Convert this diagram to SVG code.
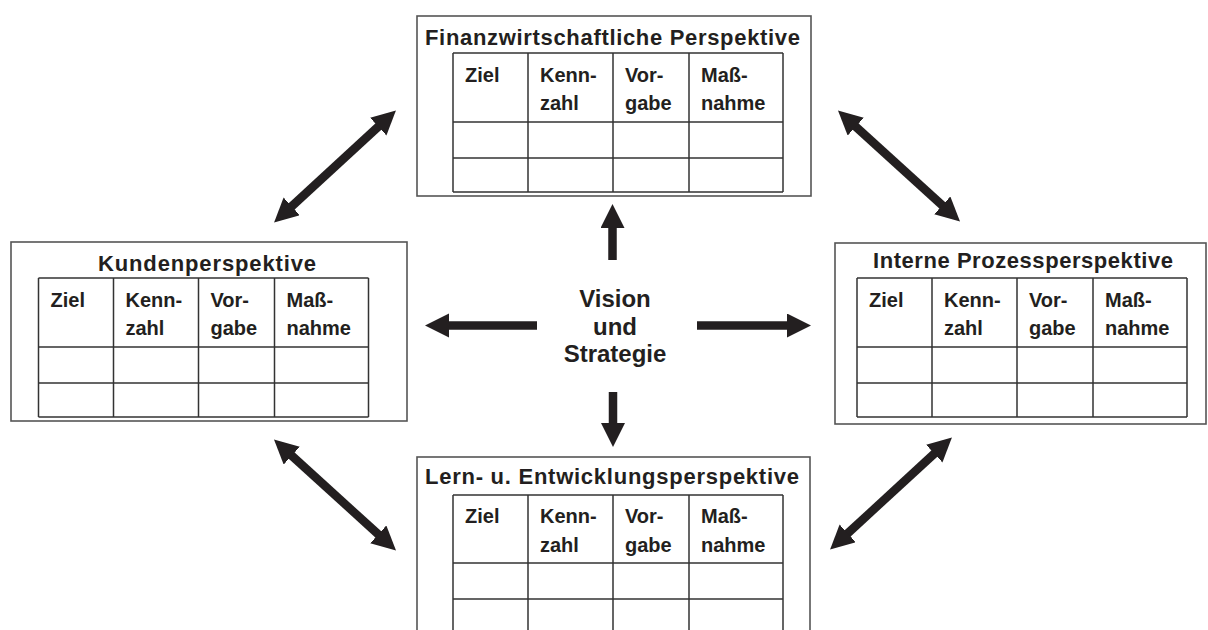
<svg xmlns="http://www.w3.org/2000/svg" width="1208" height="630" viewBox="0 0 1208 630">
  <style>
    .box { fill: #fff; stroke: #555; stroke-width: 1.6; }
    .grid { fill: none; stroke: #333; stroke-width: 1.5; }
    .title { font-family: "Liberation Sans", Arial, sans-serif; font-weight: bold; font-size: 22px; fill: #231f20; text-anchor: middle; font-variant-ligatures: none; }
    .head { font-family: "Liberation Sans", Arial, sans-serif; font-weight: bold; font-size: 20px; fill: #231f20; }
    .center { font-family: "Liberation Sans", Arial, sans-serif; font-weight: bold; font-size: 24px; fill: #231f20; text-anchor: middle; }
    .arrow { stroke: #231f20; stroke-width: 8.5; fill: none; }
  </style>
  <defs>
    <marker id="head" markerUnits="userSpaceOnUse" markerWidth="26" markerHeight="26" refX="1" refY="12" orient="auto-start-reverse">
      <path d="M0,0 L24,12 L0,24 Z" fill="#231f20"/>
    </marker>
    <!-- one scorecard table: header row with two text lines, two empty rows -->
    <g id="table">
      <path class="grid" d="M0,0 H330 M0,69 H330 M0,105 H330 M0,139 H330 M0,0 V139 M75,0 V139 M160,0 V139 M236,0 V139 M330,0 V139"/>
      <text class="head" x="12" y="29">Ziel</text>
      <text class="head" x="87" y="29">Kenn-</text>
      <text class="head" x="87" y="57">zahl</text>
      <text class="head" x="172" y="29">Vor-</text>
      <text class="head" x="172" y="57">gabe</text>
      <text class="head" x="248" y="29">Maß-</text>
      <text class="head" x="248" y="57">nahme</text>
    </g>
  </defs>

  <g id="finanz">
    <rect class="box" x="417" y="16" width="394" height="180"/>
    <text class="title" x="612.5" y="45" textLength="375">Finanzwirtschaftliche Perspektive</text>
    <use href="#table" x="453" y="53"/>
  </g>

  <g id="kunden">
    <rect class="box" x="11" y="242" width="396" height="179"/>
    <text class="title" x="207" y="271" textLength="218">Kundenperspektive</text>
    <use href="#table" x="38.5" y="278"/>
  </g>

  <g id="prozess">
    <rect class="box" x="835" y="243" width="371" height="181"/>
    <text class="title" x="1023" y="268" textLength="300">Interne Prozessperspektive</text>
    <use href="#table" x="857" y="278"/>
  </g>

  <g id="lernen">
    <rect class="box" x="417" y="457" width="393" height="200"/>
    <text class="title" x="612" y="484" textLength="374">Lern- u. Entwicklungsperspektive</text>
    <g transform="translate(453,495)">
      <path class="grid" d="M0,0 H330 M0,68 H330 M0,104 H330 M0,0 V140 M75,0 V140 M160,0 V140 M236,0 V140 M330,0 V140"/>
      <text class="head" x="12" y="28">Ziel</text>
      <text class="head" x="87" y="28">Kenn-</text>
      <text class="head" x="87" y="57">zahl</text>
      <text class="head" x="172" y="28">Vor-</text>
      <text class="head" x="172" y="57">gabe</text>
      <text class="head" x="248" y="28">Maß-</text>
      <text class="head" x="248" y="57">nahme</text>
    </g>
  </g>

  <g id="vision">
    <text class="center" x="615" y="307">Vision</text>
    <text class="center" x="615" y="335">und</text>
    <text class="center" x="615" y="362">Strategie</text>
  </g>

  <g id="connectors">
    <line class="arrow" x1="612.5" y1="260" x2="612.5" y2="227" marker-end="url(#head)"/>
    <line class="arrow" x1="613" y1="392" x2="613" y2="424" marker-end="url(#head)"/>
    <line class="arrow" x1="537" y1="325.5" x2="448" y2="325.5" marker-end="url(#head)"/>
    <line class="arrow" x1="697" y1="325.5" x2="788" y2="325.5" marker-end="url(#head)"/>
    <line class="arrow" x1="291" y1="207" x2="379" y2="126" marker-start="url(#head)" marker-end="url(#head)"/>
    <line class="arrow" x1="855" y1="126" x2="943" y2="206" marker-start="url(#head)" marker-end="url(#head)"/>
    <line class="arrow" x1="291" y1="455" x2="379" y2="535" marker-start="url(#head)" marker-end="url(#head)"/>
    <line class="arrow" x1="935" y1="453" x2="847" y2="534" marker-start="url(#head)" marker-end="url(#head)"/>
  </g>
</svg>
